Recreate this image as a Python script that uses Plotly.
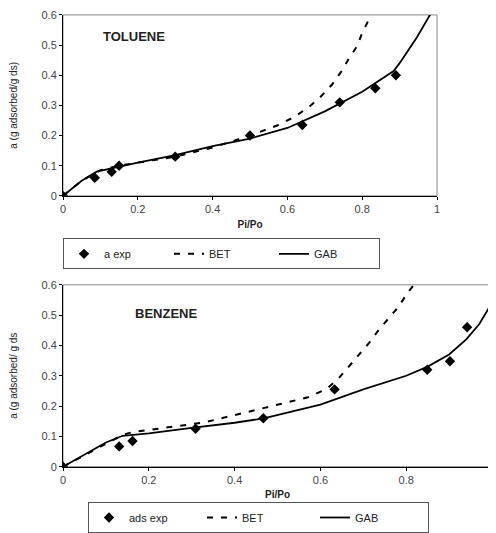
import plotly.graph_objects as go

# ---- TOLUENE ----
tol_exp_x = [0, 0.085, 0.13, 0.15, 0.30, 0.50, 0.64, 0.74, 0.835, 0.89]
tol_exp_y = [0, 0.06, 0.08, 0.10, 0.13, 0.20, 0.235, 0.31, 0.357, 0.40]
tol_bet_x = [0, 0.05, 0.1, 0.15, 0.2, 0.3, 0.4, 0.5, 0.576, 0.616, 0.656, 0.69, 0.72, 0.745, 0.763, 0.786, 0.80, 0.82]
tol_bet_y = [0, 0.05, 0.085, 0.10, 0.11, 0.13, 0.16, 0.20, 0.235, 0.26, 0.293, 0.33, 0.37, 0.414, 0.452, 0.496, 0.54, 0.59]
tol_gab_x = [0, 0.05, 0.09, 0.134, 0.2, 0.3, 0.4, 0.5, 0.6, 0.7, 0.8, 0.884, 0.9, 0.946, 0.975, 1.0]
tol_gab_y = [0, 0.05, 0.08, 0.093, 0.11, 0.135, 0.165, 0.19, 0.225, 0.28, 0.345, 0.414, 0.44, 0.525, 0.585, 0.64]

# ---- BENZENE ----
ben_exp_x = [0, 0.131, 0.162, 0.309, 0.467, 0.633, 0.849, 0.902, 0.942]
ben_exp_y = [0, 0.067, 0.085, 0.125, 0.16, 0.255, 0.32, 0.348, 0.46]
ben_bet_x = [0, 0.046, 0.085, 0.139, 0.162, 0.224, 0.278, 0.332, 0.363, 0.417, 0.471, 0.525, 0.571, 0.614, 0.641,
             0.664, 0.691, 0.714, 0.737, 0.761, 0.78, 0.803, 0.826]
ben_bet_y = [0, 0.035, 0.065, 0.105, 0.114, 0.125, 0.136, 0.147, 0.158, 0.175, 0.196, 0.213, 0.229, 0.256, 0.289,
             0.327, 0.371, 0.409, 0.453, 0.491, 0.524, 0.573, 0.615]
ben_gab_x = [0, 0.05, 0.1, 0.139, 0.2, 0.3, 0.4, 0.47, 0.5, 0.6, 0.7, 0.8, 0.85, 0.9, 0.94, 0.97, 1.0]
ben_gab_y = [0, 0.04, 0.08, 0.102, 0.11, 0.128, 0.145, 0.16, 0.17, 0.205, 0.255, 0.30, 0.33, 0.37, 0.42, 0.47, 0.54]

x_ticks = [0, 0.2, 0.4, 0.6, 0.8, 1]
y_ticks = [0, 0.1, 0.2, 0.3, 0.4, 0.5, 0.6]

OFF = 8  # page body margin
W, H = 496 - OFF, 533 - OFF
ML = 63 - OFF
PW = W - ML
FONT = "Liberation Sans, Arial, sans-serif"

fig = go.Figure()

mk = dict(symbol="diamond", size=8, color="black")
bet_line = dict(color="black", width=2, dash="6px,8px")
gab_line = dict(color="black", width=1.8)

fig.add_trace(go.Scatter(x=tol_exp_x, y=tol_exp_y, mode="markers", marker=mk, name="a exp",
                         xaxis="x", yaxis="y", legend="legend"))
fig.add_trace(go.Scatter(x=tol_bet_x, y=tol_bet_y, mode="lines", line=bet_line, name="BET",
                         xaxis="x", yaxis="y", legend="legend"))
fig.add_trace(go.Scatter(x=tol_gab_x, y=tol_gab_y, mode="lines", line=gab_line, name="GAB",
                         xaxis="x", yaxis="y", legend="legend"))

fig.add_trace(go.Scatter(x=ben_exp_x, y=ben_exp_y, mode="markers", marker=mk, name="ads exp",
                         xaxis="x2", yaxis="y2", legend="legend2"))
fig.add_trace(go.Scatter(x=ben_bet_x, y=ben_bet_y, mode="lines", line=bet_line, name="BET",
                         xaxis="x2", yaxis="y2", legend="legend2"))
fig.add_trace(go.Scatter(x=ben_gab_x, y=ben_gab_y, mode="lines", line=gab_line, name="GAB",
                         xaxis="x2", yaxis="y2", legend="legend2"))

# convert reference-page pixel positions to domain fractions
def dx(p):
    return (p - OFF - ML) / PW

def dy(p):
    return 1 - (p - OFF) / H

tick_font = dict(family=FONT, size=11, color="#444")
title_font = dict(size=10, family=FONT, color="#222")
axis_common = dict(showgrid=False, zeroline=False, showline=True, linecolor="black", linewidth=1,
                   ticks="outside", ticklen=3, tickcolor="black", tickfont=tick_font, mirror=False,
                   automargin=False)

fig.update_layout(
    width=W, height=H,
    margin=dict(l=ML, r=0, t=0, b=0),
    paper_bgcolor="white", plot_bgcolor="white",
    font=dict(family=FONT, color="black"),
    xaxis=dict(domain=[0, dx(437)], range=[0, 1], tickvals=x_ticks, anchor="y",
               title=dict(text="<b>Pi/Po</b>", font=title_font, standoff=6), **axis_common),
    yaxis=dict(domain=[dy(198), dy(15)], range=[0, 0.6], tickvals=y_ticks, anchor="x",
               title=dict(text="a (g adsorbed/g ds)", font=title_font, standoff=32), **axis_common),
    xaxis2=dict(domain=[0, dx(492)], range=[0, 1], tickvals=x_ticks, anchor="y2",
                title=dict(text="<b>Pi/Po</b>", font=title_font, standoff=6), **axis_common),
    yaxis2=dict(domain=[dy(472), dy(288)], range=[0, 0.6], tickvals=y_ticks, anchor="x2",
                title=dict(text="a (g adsorbed/ g ds", font=title_font, standoff=32), **axis_common),
    legend=dict(orientation="h", x=0.0, y=dy(241), xanchor="left", yanchor="top",
                bordercolor="#555", borderwidth=1, bgcolor="white",
                font=dict(size=11, family=FONT, color="#222"), itemwidth=30, entrywidth=60),
    legend2=dict(orientation="h", x=dx(88), y=dy(508), xanchor="left", yanchor="top",
                 bordercolor="#555", borderwidth=1, bgcolor="white",
                 font=dict(size=11, family=FONT, color="#222"), itemwidth=30, entrywidth=68),
    annotations=[
        dict(text="<b>TOLUENE</b>", x=0.19, y=0.53, xref="x", yref="y", showarrow=False,
             xanchor="center", font=dict(size=13, family=FONT, color="#222")),
        dict(text="<b>BENZENE</b>", x=0.24, y=0.505, xref="x2", yref="y2", showarrow=False,
             xanchor="center", font=dict(size=13, family=FONT, color="#222")),
    ],
    shapes=[
        dict(type="rect", xref="x domain", yref="y domain", x0=0, x1=1, y0=0, y1=1,
             line=dict(color="#888", width=1), layer="below"),
        dict(type="rect", xref="x2 domain", yref="y2 domain", x0=0, x1=1, y0=0, y1=1,
             line=dict(color="#888", width=1), layer="below"),
    ],
)

fig.write_html("out.html")
